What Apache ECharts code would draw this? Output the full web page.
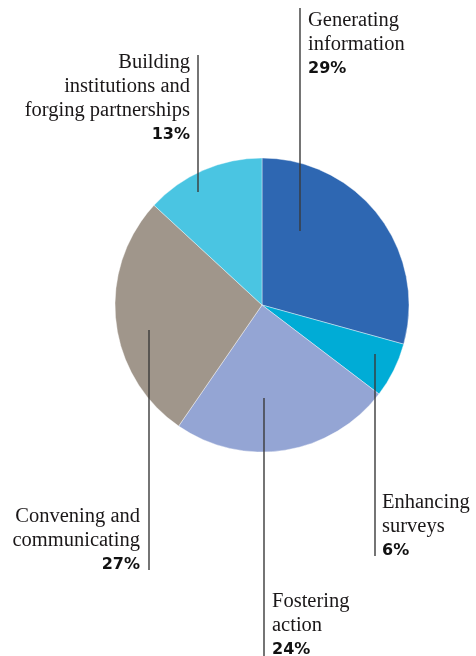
<!DOCTYPE html>
<html>
<head>
<meta charset="utf-8">
<script src="https://cdn.jsdelivr.net/npm/echarts@6/dist/echarts.min.js"></script>
<style>
html,body{margin:0;padding:0;background:#fff;}
#c{width:476px;height:656px;}
</style>
</head>
<body>
<div id="c"></div>
<script>
// ---- data ----
const categories = [
  'Generating\ninformation',
  'Enhancing\nsurveys',
  'Fostering\naction',
  'Convening and\ncommunicating',
  'Building\ninstitutions and\nforging partnerships'
];
const shares = [29, 6, 24, 27, 13];
const colors = ['#2E67B2', '#00ACD6', '#94A5D4', '#A0968B', '#4AC5E2'];

// ---- label layout (annotation placement, pixels) ----
const labelPlacement = [
  { x: 308, y: 9,   align: 'left',  line: [[300, 231], [300, 8]] },
  { x: 382, y: 491, align: 'left',  line: [[375, 354], [375, 556]] },
  { x: 272, y: 590, align: 'left',  line: [[264, 398], [264, 656]] },
  { x: 140, y: 505, align: 'right', line: [[149, 330], [149, 570]] },
  { x: 190, y: 51,  align: 'right', line: [[198, 192], [198, 55]] }
];

const chart = echarts.init(document.getElementById('c'), null, { renderer: 'canvas' });

const pieData = categories.map(function (name, i) {
  return { name: name, value: shares[i], itemStyle: { color: colors[i] } };
});
const overlayData = categories.map(function (name, i) {
  return { name: name, value: shares[i], itemStyle: { color: 'rgba(0,0,0,0)' } };
});

const common = {
  type: 'pie',
  center: [262, 305],
  radius: 147,
  startAngle: 90,
  clockwise: true,
  avoidLabelOverlap: false,
  silent: true
};

chart.setOption({
  backgroundColor: '#ffffff',
  animation: false,
  series: [
    Object.assign({}, common, {
      z: 2,
      itemStyle: { borderColor: '#ffffff', borderWidth: 0.4 },
      label: { show: false },
      labelLine: { show: false },
      data: pieData
    }),
    Object.assign({}, common, {
      z: 5,
      itemStyle: { borderWidth: 0 },
      label: {
        show: true,
        formatter: function (p) {
          return '{n|' + p.name + '}\n{p|' + p.value + '%}';
        },
        rich: {
          n: { fontFamily: 'Liberation Serif', fontSize: 20.5, lineHeight: 24, color: '#1a1718' },
          p: { fontFamily: 'DejaVu Sans', fontWeight: 'bold', fontSize: 16, lineHeight: 23, color: '#111' }
        }
      },
      labelLine: {
        show: true,
        lineStyle: { color: '#3a3a3a', width: 1.4 }
      },
      labelLayout: function (params) {
        const pl = labelPlacement[params.dataIndex];
        return {
          x: pl.x,
          y: pl.y,
          align: pl.align,
          verticalAlign: 'top',
          labelLinePoints: pl.line
        };
      },
      data: overlayData
    })
  ]
});
</script>
</body>
</html>
